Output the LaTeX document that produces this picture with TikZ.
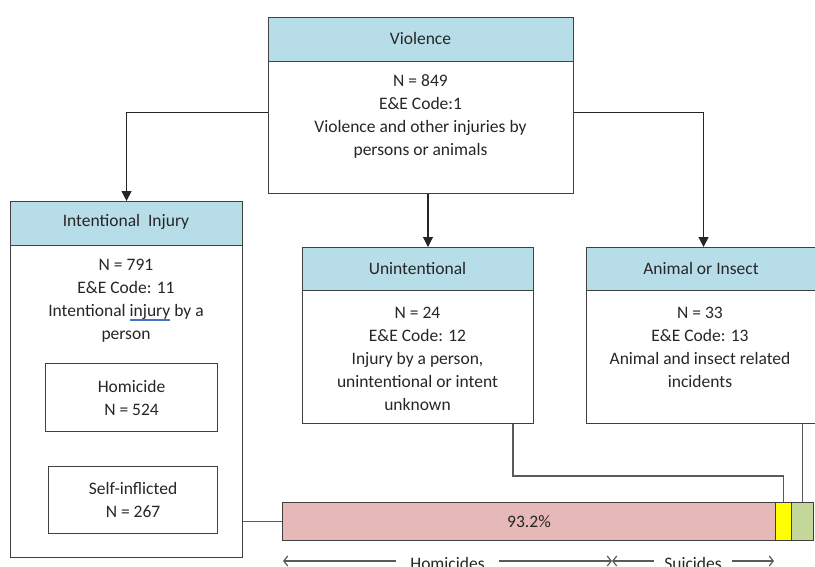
\documentclass[tikz,border=0pt]{standalone}
\usepackage{fontspec}
\setmainfont{Carlito}
\usetikzlibrary{arrows.meta}
\definecolor{hdrblue}{HTML}{B7DEE8}
\definecolor{barpink}{HTML}{E6B8B7}
\definecolor{baryellow}{HTML}{FFFF00}
\definecolor{bargreen}{HTML}{C4D79B}
\definecolor{edge}{HTML}{404040}
\definecolor{wire}{HTML}{5A5A5A}
\definecolor{ink}{HTML}{262626}
\definecolor{spell}{HTML}{4472C4}
% word with a blue proofing underline
\newcommand{\spellmark}[1]{\leavevmode\setbox0\hbox{#1}\rlap{\textcolor{spell}{\rule[-4pt]{\wd0}{1.3pt}}}\box0\relax}
\begin{document}
\begin{tikzpicture}[x=1pt,y=-1pt,
  every node/.style={font=\fontsize{17.5}{23}\selectfont, text=ink},
  hdr/.style={draw=edge, line width=1.1pt, fill=hdrblue, anchor=north west, inner sep=0pt},
  body/.style={draw=edge, line width=1.1pt, fill=white, anchor=north west, inner sep=0pt},
  txt/.style={align=center, inner sep=0pt},
  sub/.style={draw=edge, line width=1.1pt, fill=white, align=center, inner sep=0pt},
  seg/.style={draw=edge, line width=1pt, anchor=north west, inner sep=0pt, minimum height=38},
  arr/.style={draw=black!85, line width=1.1pt, -{Triangle[width=10pt,length=10pt]}},
  conn/.style={draw=wire, line width=1.3pt},
  span/.style={draw=wire, line width=1.2pt, {Straight Barb[length=4pt,width=10pt]}-{Straight Barb[length=4pt,width=10pt]}}
]
\useasboundingbox (0,0) rectangle (815,566);

% Top box: Violence
\node[body, minimum width=305, minimum height=132] (vb) at (268,61) {};
\node[hdr, minimum width=305, minimum height=44] (vh) at (268,17) {};
\node[txt] (vht) at (420.5,38) {Violence};
\node[txt] (vbt) at (420.5,116) {N = 849\\E\&E Code:1\\Violence and other injuries by\\persons or animals};

% Intentional injury
\node[body, minimum width=232, minimum height=312] (ib) at (10,245) {};
\node[hdr, minimum width=232, minimum height=44] (ih) at (10,201) {};
\node[txt] (iht) at (126,222) {Intentional\ \ Injury};
\node[txt] (ibt) at (126,301) {N = 791\\E\&E Code: 11\\Intentional \spellmark{injury} by a\\person};
\node[sub, minimum width=172, minimum height=68, anchor=north west] (hom) at (45,363) {Homicide\\N = 524};
\node[sub, minimum width=169, minimum height=67, anchor=north west] (self) at (48,466) {Self-inflicted\\N = 267};

% Unintentional
\node[body, minimum width=231, minimum height=133] (ub) at (302,290) {};
\node[hdr, minimum width=231, minimum height=43] (uh) at (302,247) {};
\node[txt] (uht) at (417.5,268) {Unintentional};
\node[txt] (ubt) at (417.5,359) {N = 24\\E\&E Code: 12\\Injury by a person,\\unintentional\ or intent\\unknown};

% Animal or insect
\node[body, minimum width=234, minimum height=133] (ab) at (586,290) {};
\node[hdr, minimum width=234, minimum height=43] (ah) at (586,247) {};
\node[txt] (aht) at (701,268) {Animal\ or\ Insect};
\node[txt] (abt) at (700,347) {N = 33\\E\&E Code: 13\\Animal and insect related\\incidents};

% Share bar
\node[seg, fill=barpink, minimum width=493] (barh) at (282,502) {};
\node[txt] (pct) at (barh.center) {93.2\%};
\node[seg, fill=baryellow, minimum width=16] (baru) at (775,502) {};
\node[seg, fill=bargreen, minimum width=22] (bara) at (791,502) {};

% Arrows from the top box
\coordinate (midx) at (428,0);
\draw[arr] ([yshift=15pt]vb.west) -| (ih.north);
\draw[arr] ([yshift=15pt]vb.east) -| (ah.north);
\draw[arr] (vb.south -| midx) -- (uh.north -| midx);

% Links to the bar
\coordinate (ubend) at (513,476);
\draw[conn] (barh.west -| ib.east) -- (barh.west);
\draw[conn] (ub.south -| ubend) -- (ubend) -| (baru.north);
\draw[conn] (ab.south -| bara.north) -- (bara.north);

% Spans under the bar
\coordinate (spl) at (283,561);
\coordinate (spm) at (612,561);
\coordinate (spr) at (774,561);
\draw[span] (spl) -- (spm) node[midway, fill=white, inner xsep=14pt, inner ysep=1pt, yshift=-2pt] (homl) {Homicides};
\draw[span] (spm) -- (spr) node[midway, fill=white, inner xsep=10pt, inner ysep=1pt, yshift=-2pt] (suil) {Suicides};
\end{tikzpicture}
\end{document}
